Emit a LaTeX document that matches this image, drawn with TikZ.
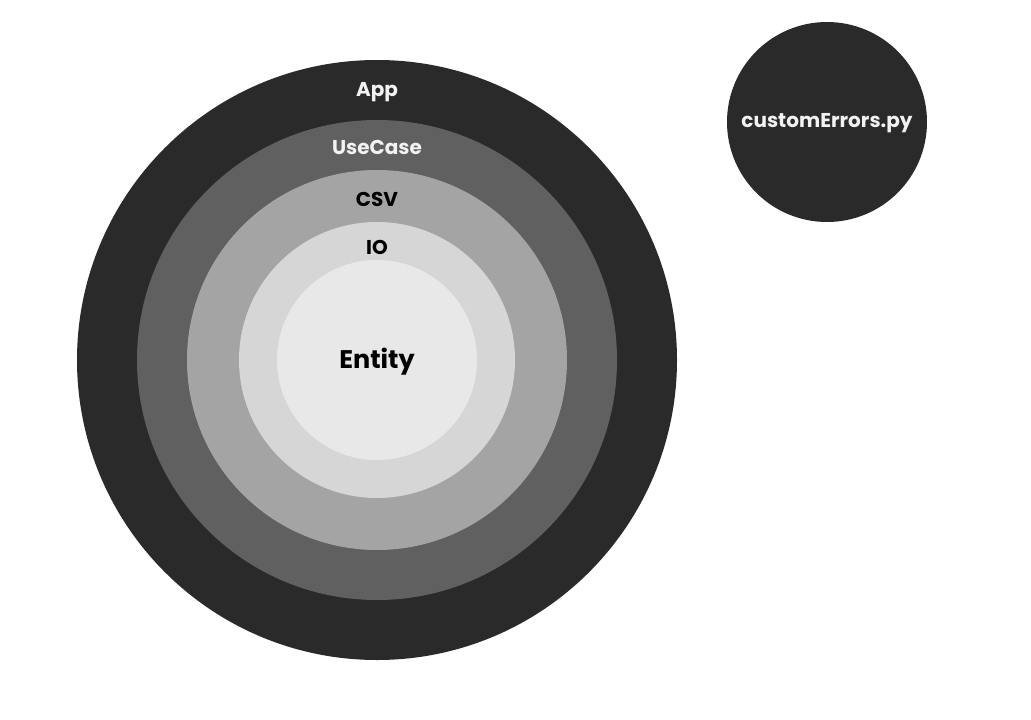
\documentclass[tikz,border=0pt]{standalone}
\usepackage{fontspec}
\setmainfont{Poppins}
\definecolor{appcol}{HTML}{2A2A2A}
\definecolor{usecasecol}{HTML}{606060}
\definecolor{csvcol}{HTML}{A4A4A4}
\definecolor{iocol}{HTML}{D6D6D6}
\definecolor{entitycol}{HTML}{E8E8E8}
\definecolor{lighttext}{HTML}{F2F2F2}
\begin{document}
\begin{tikzpicture}
[x=1pt,y=-1pt,
  ringdecorate/.style={shape=circle,inner sep=0pt,draw=none},%
  labeldecorate/.style={font=\bfseries\fontsize{20}{24}\selectfont,inner sep=0pt}]
\useasboundingbox (0,0) rectangle (1031,720);
%% rings, outermost first
\foreach \nodename/\d/\col in {app/600/appcol, usecase/480/usecasecol,
    csv/380/csvcol, io/276/iocol, entity/200/entitycol} {
  \node (\nodename) at (377,360) [ringdecorate,minimum size=\d pt,fill=\col] {};
}
\node (errors) at (827,122) [ringdecorate,minimum size=200pt,fill=appcol] {};
%% labels
\foreach \nodename/\y/\col/\txt in {app/92/lighttext/App, usecase/147/lighttext/UseCase,
    csv/199/black/CSV, io/247/black/IO} {
  \node (\nodename-label) at (377,\y) [labeldecorate,text=\col] {\txt};
}
\node (entity-label) at ([yshift=-2pt]entity.center) [labeldecorate,font=\bfseries\fontsize{25.5}{30}\selectfont] {Entity};
\node (errors-label) at ([yshift=-1pt]errors.center) [labeldecorate,text=lighttext] {customErrors.py};
\end{tikzpicture}
\end{document}
